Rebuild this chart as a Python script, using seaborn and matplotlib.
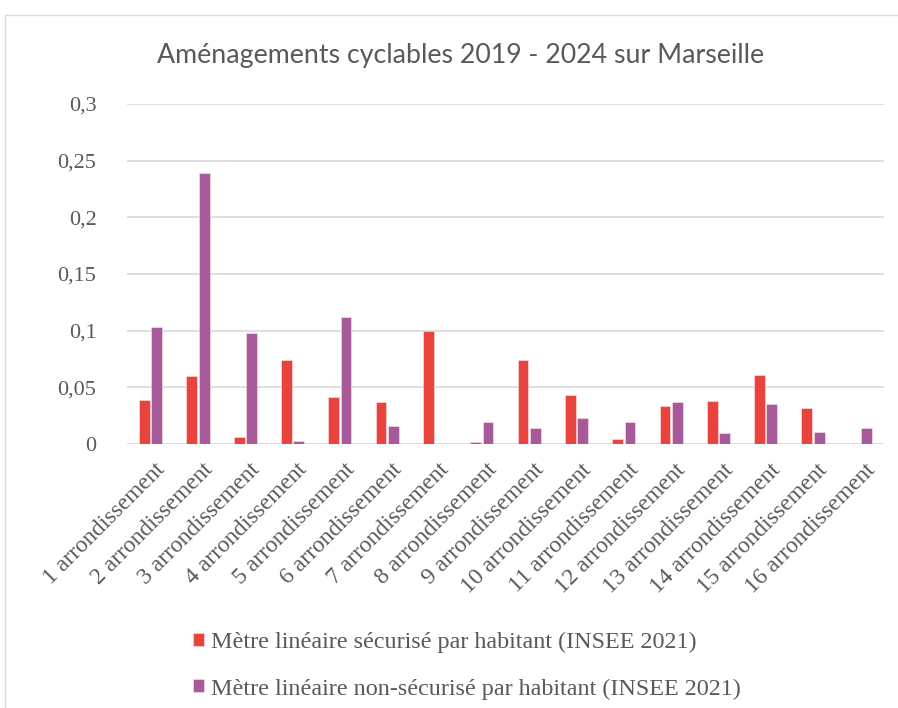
import numpy as np
import pandas as pd
import matplotlib
matplotlib.use("Agg")
import matplotlib.pyplot as plt
from matplotlib.patches import Rectangle
from matplotlib.ticker import FuncFormatter
from matplotlib.transforms import ScaledTranslation
import seaborn as sns

categories = [f"{i} arrondissement" for i in range(1, 17)]
securise = [0.039, 0.0597, 0.0062, 0.0738, 0.0412, 0.0374, 0.100, 0.0015,
            0.0744, 0.0435, 0.0047, 0.0332, 0.0382, 0.0606, 0.0315, 0.0]
non_securise = [0.103, 0.239, 0.0976, 0.003, 0.1124, 0.0162, 0.0, 0.019,
                0.0144, 0.0226, 0.019, 0.0374, 0.010, 0.0356, 0.0109, 0.0138]
series_names = ["Mètre linéaire sécurisé par habitant (INSEE 2021)",
                "Mètre linéaire non-sécurisé par habitant (INSEE 2021)"]
colors = ["#E8443D", "#A75A9A"]
yticks = [0, 0.05, 0.1, 0.15, 0.2, 0.25, 0.3]

df = pd.DataFrame({
    "cat": categories * 2,
    "val": securise + non_securise,
    "serie": [series_names[0]] * 16 + [series_names[1]] * 16,
})

sns.set_theme(style="white")
plt.rcParams["font.family"] = ["Liberation Serif", "DejaVu Serif"]

W, H = 898, 708
fig = plt.figure(figsize=(W / 100, H / 100), dpi=100)
fig.patch.set_facecolor("white")
fig.patches.append(Rectangle((5 / W, -0.01), 1.1, (H - 15) / H + 0.01,
                             transform=fig.transFigure, fill=False,
                             edgecolor="#D9D9D9", linewidth=1.0))

ax = fig.add_axes([127 / W, (H - 444) / H, (884 - 127) / W, (444 - 104) / H])
sns.barplot(data=df, x="cat", y="val", hue="serie", palette=colors,
            width=0.52, gap=0.12, ax=ax, legend=True, saturation=1,
            edgecolor="#FFE5E5", linewidth=0.4)

ax.set_ylim(0, 0.3)
ax.set_xlim(-0.5, 15.5)
ax.set_yticks(yticks)
ax.yaxis.set_major_formatter(FuncFormatter(lambda v, p: ("%g" % v).replace(".", ",")))
ax.grid(axis="y", color="#D9D9D9", linewidth=1.2)
ax.set_axisbelow(True)
for s in ax.spines.values():
    s.set_visible(False)
ax.set_xlabel("")
ax.set_ylabel("")
ax.tick_params(axis="y", length=0, pad=22, labelsize=16, labelcolor="#595959")
ax.tick_params(axis="x", length=0, pad=11, labelsize=17, labelcolor="#595959")
shift = ScaledTranslation(4 / 100, 0, fig.dpi_scale_trans)
for lab in ax.get_xticklabels():
    lab.set_rotation(45)
    lab.set_ha("right")
    lab.set_rotation_mode("anchor")
    lab.set_transform(lab.get_transform() + shift)

handles, labels = ax.get_legend_handles_labels()
ax.get_legend().remove()
fig.legend(handles, labels, loc="upper left", bbox_to_anchor=(171 / W, (H - 610) / H),
           frameon=False, fontsize=17.4, labelcolor="#595959",
           handlelength=0.45, handleheight=0.45, handletextpad=0.3,
           labelspacing=1.05)

fig.text(461 / W, (H - 55) / H, "Aménagements cyclables 2019 - 2024 sur Marseille",
         ha="center", va="center", fontsize=19.3, color="#595959",
         family=["Lato", "DejaVu Sans"])

fig.savefig("out.png", dpi=100)
